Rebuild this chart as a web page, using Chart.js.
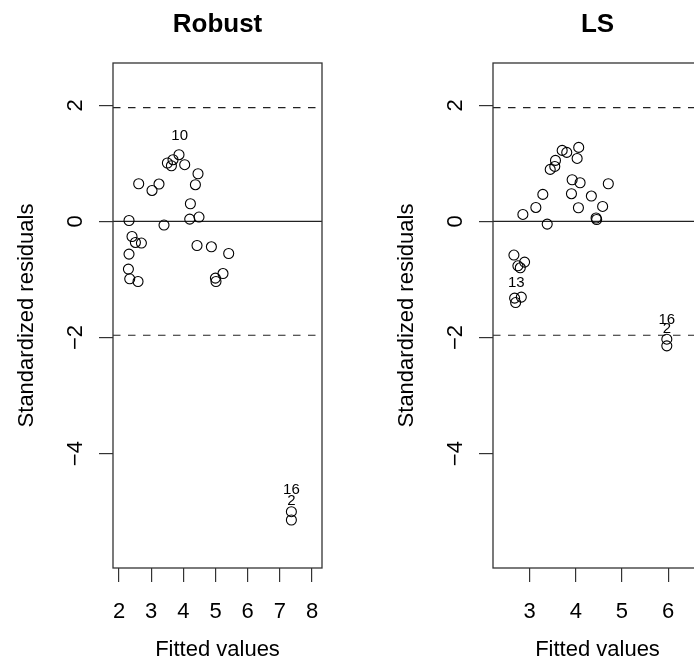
<!DOCTYPE html>
<html>
<head>
<meta charset="utf-8">
<script src="https://cdn.jsdelivr.net/npm/chart.js@4/dist/chart.umd.min.js"></script>
<style>
  body { margin: 0; background: #fff; overflow: hidden; }
  #wrap { position: relative; width: 694px; height: 664px; overflow: hidden; }
  canvas { position: absolute; top: 0; }
</style>
</head>
<body>
<div id="wrap">
  <canvas id="robust" width="380" height="664" style="left:0px"></canvas>
  <canvas id="ls" width="380" height="664" style="left:380px"></canvas>
</div>
<script>
// values
var robustFitted = [3.865, 3.504, 3.679, 3.629, 4.042, 4.456, 4.375, 2.612, 3.243, 3.026,
                    4.219, 4.198, 4.487, 2.311, 3.399, 2.404, 2.510, 2.696, 2.311, 4.425,
                    4.872, 5.410, 2.292, 2.333, 2.591, 5.233, 4.997, 5.015, 7.359, 7.359];
var robustResid  = [1.150, 1.007, 1.064, 0.960, 0.978, 0.822, 0.633, 0.650, 0.645, 0.534,
                    0.305, 0.041, 0.076, 0.017, -0.062, -0.259, -0.362, -0.372, -0.562, -0.414,
                    -0.436, -0.552, -0.821, -0.988, -1.034, -0.897, -0.976, -1.034, -5.000, -5.143];

var lsFitted = [4.064, 3.706, 3.805, 4.030, 3.561, 3.546, 3.447, 3.922, 4.094, 4.705,
                3.907, 3.287, 4.338, 3.136, 4.058, 4.582, 2.855, 4.440, 4.453, 3.382,
                2.661, 2.892, 2.747, 2.799, 2.676, 2.821, 2.698, 5.972, 5.972];
var lsResid  = [1.276, 1.224, 1.190, 1.086, 1.052, 0.948, 0.897, 0.719, 0.667, 0.650,
                0.478, 0.466, 0.438, 0.241, 0.236, 0.259, 0.121, 0.059, 0.034, -0.045,
                -0.579, -0.700, -0.764, -0.798, -1.321, -1.303, -1.397, -2.028, -2.143];

var robustIds = ["10", "16", "2"];
var robustIdX = [3.887, 7.359, 7.359];
var robustIdY = [1.478, -4.626, -4.810];
var lsIds = ["13", "16", "2"];
var lsIdX = [2.713, 5.972, 5.972];
var lsIdY = [-1.062, -1.695, -1.855];

var residTicks = [-4, -2, 0, 2];
var robustFitTicks = [2, 3, 4, 5, 6, 7, 8];
var lsFitTicks = [3, 4, 5, 6];
var cutoff = 1.96;

Chart.defaults.font.family = "'Liberation Sans', Arial, Helvetica, sans-serif";
Chart.defaults.color = "#000";

var framePlugin = {
  id: "frame",
  afterDraw: function(chart, args, opts) {
    var ctx = chart.ctx, a = chart.chartArea;
    var xs = chart.scales.x, ys = chart.scales.y;
    ctx.save();
    ctx.strokeStyle = "#333";
    ctx.lineWidth = 1.3;
    ctx.strokeRect(a.left, a.top, a.right - a.left, a.bottom - a.top);

    ctx.fillStyle = "#000";
    ctx.font = "bold 26px 'Liberation Sans', Arial, sans-serif";
    ctx.textAlign = "center";
    ctx.textBaseline = "alphabetic";
    ctx.fillText(opts.title, (a.left + a.right) / 2, 32);

    // y tick labels, parallel to the axis
    ctx.font = "22px 'Liberation Sans', Arial, sans-serif";
    residTicks.forEach(function(v) {
      var py = ys.getPixelForValue(v);
      ctx.save();
      ctx.translate(a.left - 31.5, py);
      ctx.rotate(-Math.PI / 2);
      ctx.fillText(String(v).replace("-", "\u2212"), 0, 0);
      ctx.restore();
    });

    // identified points
    ctx.font = "15px 'Liberation Sans', Arial, sans-serif";
    ctx.textBaseline = "middle";
    opts.ids.forEach(function(t, i) {
      ctx.fillText(t, xs.getPixelForValue(opts.idX[i]), ys.getPixelForValue(opts.idY[i]));
    });
    ctx.restore();
  }
};

function refLine(level, xMin, xMax, dash) {
  return {
    data: [{x: xMin, y: level}, {x: xMax, y: level}],
    showLine: true,
    borderColor: "#222",
    borderWidth: 1.2,
    borderDash: dash,
    pointRadius: 0,
    fill: false
  };
}

function createPanel(id, title, fitted, resid, fitTicks, xMin, xMax, ids, idX, idY) {
  var pts = fitted.map(function(v, i) { return {x: v, y: resid[i]}; });
  new Chart(document.getElementById(id).getContext("2d"), {
    type: "scatter",
    data: {
      datasets: [
        {
          data: pts,
          pointRadius: 5,
          pointHoverRadius: 5,
          pointBorderWidth: 1.1,
          borderColor: "#000",
          backgroundColor: "rgba(0,0,0,0)"
        },
        refLine(0, xMin, xMax, []),
        refLine(cutoff, xMin, xMax, [7.5, 7.5]),
        refLine(-cutoff, xMin, xMax, [7.5, 7.5])
      ]
    },
    options: {
      responsive: false,
      animation: false,
      events: [],
      layout: {padding: {top: 63, right: 58, bottom: 0, left: 0}},
      plugins: {
        legend: {display: false},
        tooltip: {enabled: false},
        frame: {title: title, ids: ids, idX: idX, idY: idY}
      },
      scales: {
        x: {
          type: "linear",
          min: xMin,
          max: xMax,
          afterBuildTicks: function(s) { s.ticks = fitTicks.map(function(v) { return {value: v}; }); },
          afterFit: function(s) { s.height = 96; },
          grid: {drawOnChartArea: false, drawTicks: true, tickLength: 14, color: "#333", lineWidth: 1.2},
          border: {display: false},
          ticks: {font: {size: 22}, padding: 17, color: "#000", maxRotation: 0, autoSkip: false},
          title: {display: true, text: "Fitted values", font: {size: 22}, color: "#000", padding: {top: 0, bottom: 1}}
        },
        y: {
          type: "linear",
          min: -5.97,
          max: 2.73,
          afterBuildTicks: function(s) { s.ticks = residTicks.map(function(v) { return {value: v}; }); },
          afterFit: function(s) { s.width = 113; },
          grid: {drawOnChartArea: false, drawTicks: true, tickLength: 14, color: "#333", lineWidth: 1.2},
          border: {display: false},
          ticks: {display: false},
          title: {display: true, text: "Standardized residuals", font: {size: 22}, color: "#000", padding: {top: 14, bottom: 0}}
        }
      }
    },
    plugins: [framePlugin]
  });
}

createPanel("robust", "Robust", robustFitted, robustResid, robustFitTicks, 1.813, 8.311, robustIds, robustIdX, robustIdY);
createPanel("ls", "LS", lsFitted, lsResid, lsFitTicks, 2.208, 6.734, lsIds, lsIdX, lsIdY);
</script>
</body>
</html>
